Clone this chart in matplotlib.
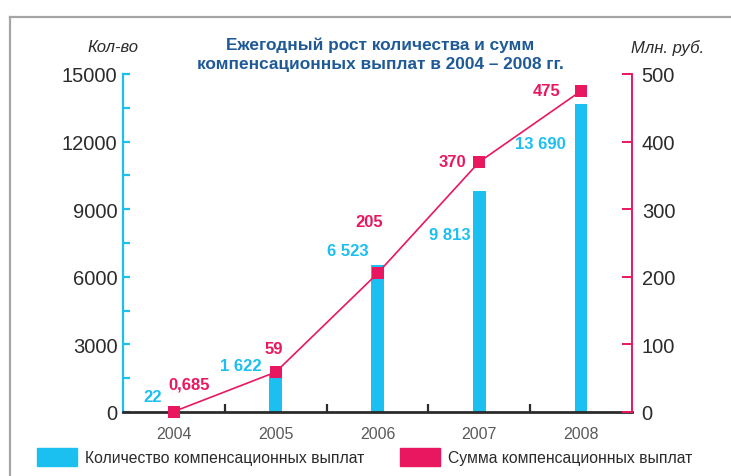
import matplotlib
matplotlib.use('Agg')
import matplotlib.pyplot as plt
import matplotlib.patches as mpatches
from matplotlib.lines import Line2D
from matplotlib.ticker import MultipleLocator

# ── Data ──────────────────────────────────────────────────────────────────────
years = ['2004', '2005', '2006', '2007', '2008']
counts = [22, 1622, 6523, 9813, 13690]                 # Количество выплат
sums = [0.685, 59, 205, 370, 475]                      # Сумма, млн. руб.
count_labels = ['22', '1 622', '6 523', '9 813', '13 690']
sum_labels = ['0,685', '59', '205', '370', '475']

# ── Style ─────────────────────────────────────────────────────────────────────
CYAN = '#1bc0f0'
PINK = '#e9175f'
TITLE_BLUE = '#1f5a97'
DARK = '#2b2b2b'
plt.rcParams['font.family'] = ['Liberation Sans Narrow', 'Liberation Sans', 'DejaVu Sans']

PX = 0.72  # one pixel in points at dpi 100

fig = plt.figure(figsize=(7.31, 4.77), dpi=100)
ax = fig.add_axes([123 / 731, 1 - 413 / 477, (632 - 123) / 731, (413 - 75) / 477])
ax2 = ax.twinx()

x = list(range(len(years)))

# ── Bars (left axis) ──────────────────────────────────────────────────────────
ax.bar(x, counts, width=0.125, color=CYAN, zorder=2)
ax.set_xlim(-0.5, len(years) - 0.5)
ax.set_ylim(0, 15000)
ax.yaxis.set_major_locator(MultipleLocator(3000))
ax.yaxis.set_minor_locator(MultipleLocator(1500))

# ── Line (right axis) ─────────────────────────────────────────────────────────
ax2.plot(x, sums, color=PINK, linewidth=1.2, marker='s', markersize=8.5,
         markeredgewidth=0, zorder=3, clip_on=False)
ax2.set_ylim(0, 500)
ax2.yaxis.set_major_locator(MultipleLocator(100))

# ── Spines & ticks ────────────────────────────────────────────────────────────
for a in (ax, ax2):
    a.spines['top'].set_visible(False)
    a.patch.set_visible(False)
ax.spines['right'].set_visible(False)
ax2.spines['left'].set_visible(False)
ax2.spines['bottom'].set_visible(False)

ax.spines['left'].set_color(CYAN)
ax.spines['left'].set_linewidth(1.6)
ax.spines['bottom'].set_color(DARK)
ax.spines['bottom'].set_linewidth(2.0)
ax.spines['bottom'].set_zorder(4)
ax2.spines['right'].set_color(PINK)
ax2.spines['right'].set_linewidth(1.4)

ax.tick_params(axis='y', which='both', direction='in', length=5, width=1.6,
               color=CYAN, labelsize=14.5, labelcolor=DARK, pad=4)
ax.tick_params(axis='x', which='major', length=0, labelsize=11.5,
               labelcolor='#5a5a5a', pad=10)
ax.set_xticks(x)
ax.set_xticklabels(years)
ax.set_xticks([i + 0.5 for i in x[:-1]], minor=True)
ax.tick_params(axis='x', which='minor', direction='in', length=6, width=1.6,
               color=DARK)
ax2.tick_params(axis='y', direction='in', length=7, width=1.4, color=PINK,
                labelsize=14.5, labelcolor=DARK, pad=7)

# ── Value labels ──────────────────────────────────────────────────────────────
count_offsets = [(-12, 15), (-14, 10), (-9, 15), (-9, -44), (-15, -40)]
for xi, v, lab, (dx, dy) in zip(x, counts, count_labels, count_offsets):
    ax.annotate(lab, xy=(xi, v), xytext=(dx * PX, dy * PX),
                textcoords='offset points', ha='right', va='center',
                fontsize=12, fontweight='bold', color=CYAN, zorder=5)

sum_offsets = [(15, 28), (-2, 24), (-8, 52), (-27, 0), (-34, 0)]
for xi, v, lab, (dx, dy) in zip(x, sums, sum_labels, sum_offsets):
    ax2.annotate(lab, xy=(xi, v), xytext=(dx * PX, dy * PX),
                 textcoords='offset points', ha='center', va='center',
                 fontsize=12, fontweight='bold', color=PINK, zorder=5)

# ── Titles ────────────────────────────────────────────────────────────────────
fig.text(380 / 731, 1 - 55 / 477,
         'Ежегодный рост количества и сумм\nкомпенсационных выплат в 2004 – 2008 гг.',
         ha='center', va='center', fontsize=12.4, fontweight='bold',
         color=TITLE_BLUE, linespacing=1.3)
fig.text(113 / 731, 1 - 48 / 477, 'Кол-во', ha='center', va='center',
         fontsize=12, style='italic', color=DARK)
fig.text(668 / 731, 1 - 48 / 477, 'Млн. руб.', ha='center', va='center',
         fontsize=12, style='italic', color=DARK)

# ── Legend ────────────────────────────────────────────────────────────────────
handles = [mpatches.Patch(color=CYAN, label='Количество компенсационных выплат'),
           mpatches.Patch(color=PINK, label='Сумма компенсационных выплат')]
fig.legend(handles=handles, loc='center left',
           bbox_to_anchor=(37 / 731, 1 - 458 / 477), ncol=2, frameon=False,
           fontsize=11.3, handlelength=2.55, handleheight=1.45, handletextpad=0.5,
           columnspacing=2.3, borderpad=0, borderaxespad=0, labelcolor=DARK)

# ── Outer frame (cut by the image edge) ───────────────────────────────────────
fig.add_artist(Line2D([10 / 731, 10 / 731], [0, 1 - 18 / 477],
                      transform=fig.transFigure, color='#a5a5a5', linewidth=1.6))
fig.add_artist(Line2D([10 / 731, 1], [1 - 18 / 477, 1 - 18 / 477],
                      transform=fig.transFigure, color='#a5a5a5', linewidth=1.6))

fig.savefig('out.png', dpi=100, facecolor='white')
